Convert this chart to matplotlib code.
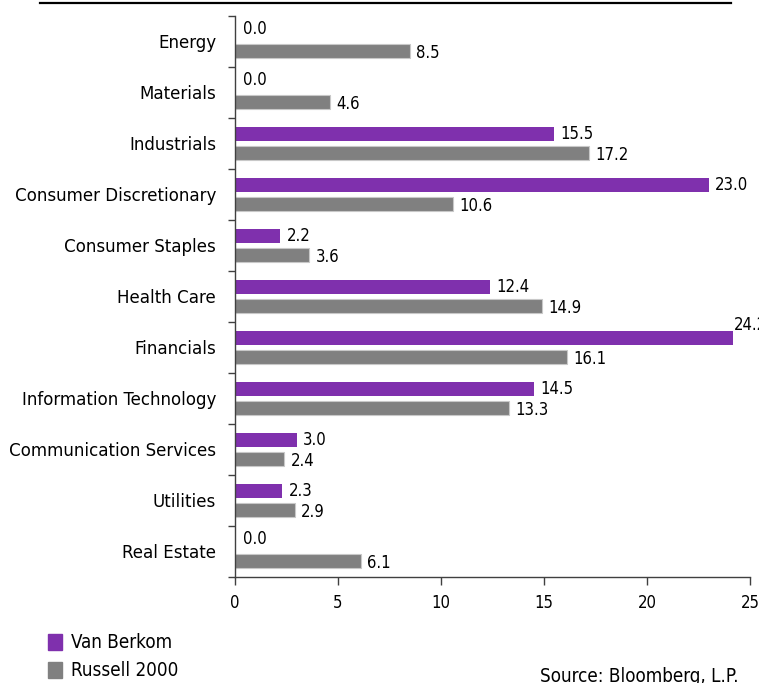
import numpy as np
import matplotlib.pyplot as plt
from matplotlib import font_manager
from matplotlib.patches import Rectangle
from matplotlib.lines import Line2D

# -----------------------------
# Data
# -----------------------------
sectors = ["Energy", "Materials", "Industrials", "Consumer Discretionary",
           "Consumer Staples", "Health Care", "Financials",
           "Information Technology", "Communication Services",
           "Utilities", "Real Estate"]
van_berkom = [0.0, 0.0, 15.5, 23.0, 2.2, 12.4, 24.2, 14.5, 3.0, 2.3, 0.0]
russell_2000 = [8.5, 4.6, 17.2, 10.6, 3.6, 14.9, 16.1, 13.3, 2.4, 2.9, 6.1]
x_ticks = [0, 5, 10, 15, 20, 25]

purple = "#7f30ad"
gray = "#808080"

# -----------------------------
# Pick a narrow font if one is installed
# -----------------------------
narrow = None
for f in font_manager.fontManager.ttflist:
    if f.style != "normal" or f.weight not in (400, "normal", "regular"):
        continue
    if "Narrow" in f.name or "Condensed" in f.name:
        narrow = (f.name, "normal")
        break
    if f.stretch in ("condensed", "semi-condensed", 400):
        narrow = (f.name, f.stretch)
        break

if narrow:
    plt.rcParams['font.family'] = [narrow[0], 'DejaVu Sans']
    plt.rcParams['font.stretch'] = narrow[1]
    fs_lab, fs_val, fs_leg = 13.3, 12, 13.5
else:
    plt.rcParams['font.family'] = ['DejaVu Sans']
    fs_lab, fs_val, fs_leg = 12, 11, 12

# -----------------------------
# Figure
# -----------------------------
fig = plt.figure(figsize=(7.59, 6.83), dpi=100)
ax = fig.add_axes([0.3096, 0.1552, 0.6785, 0.8214])

n = len(sectors)
y = np.arange(n)
h = 0.27
off = 0.18

ax.barh(y - off, van_berkom, height=h, color=purple, edgecolor="none")
ax.barh(y + off, russell_2000, height=h, color=gray,
        edgecolor="#c8c8c8", linewidth=0.8)

# value labels
for yi, v in zip(y, van_berkom):
    if v >= 24:
        ax.text(v, yi - off - 0.08, f"{v:.1f}", va="bottom", ha="left",
                fontsize=fs_val, clip_on=False)
    elif v == 0:
        ax.text(v + 0.4, yi - off - 0.07, f"{v:.1f}", va="center",
                ha="left", fontsize=fs_val)
    else:
        ax.text(v + 0.3, yi - off, f"{v:.1f}", va="center",
                ha="left", fontsize=fs_val)
for yi, v in zip(y, russell_2000):
    ax.text(v + 0.3, yi + off + 0.04, f"{v:.1f}", va="center", ha="left",
            fontsize=fs_val)

ax.set_ylim(n - 0.5, -0.5)
ax.set_xlim(0, 25)

ax.set_yticks(y)
ax.set_yticklabels(sectors, fontsize=fs_lab)
ax.set_yticks(np.arange(-0.5, n, 1), minor=True)
ax.tick_params(axis="y", which="major", length=0, pad=13.5)
ax.tick_params(axis="y", which="minor", length=5, width=1, color="#404040",
               direction="out")
ax.set_xticks(x_ticks)
ax.tick_params(axis="x", length=6, width=1, color="#404040",
               labelsize=fs_val, pad=6)

for s in ["top", "right"]:
    ax.spines[s].set_visible(False)
for s in ["left", "bottom"]:
    ax.spines[s].set_color("#404040")
    ax.spines[s].set_linewidth(1)

# top rule
fig.add_artist(Line2D([0.053, 0.963], [0.995, 0.995], color="black",
                      linewidth=1.6, transform=fig.transFigure))

# legend
fig.add_artist(Rectangle((0.063, 0.048), 0.019, 0.024, color=purple,
                         transform=fig.transFigure))
fig.add_artist(Rectangle((0.063, 0.007), 0.019, 0.024, color=gray,
                         transform=fig.transFigure))
fig.text(0.094, 0.060, "Van Berkom", fontsize=fs_leg, va="center")
fig.text(0.094, 0.019, "Russell 2000", fontsize=fs_leg, va="center")
fig.text(0.712, 0.010, "Source: Bloomberg, L.P.", fontsize=fs_leg,
         va="center")

fig.savefig("out.png", dpi=100)
